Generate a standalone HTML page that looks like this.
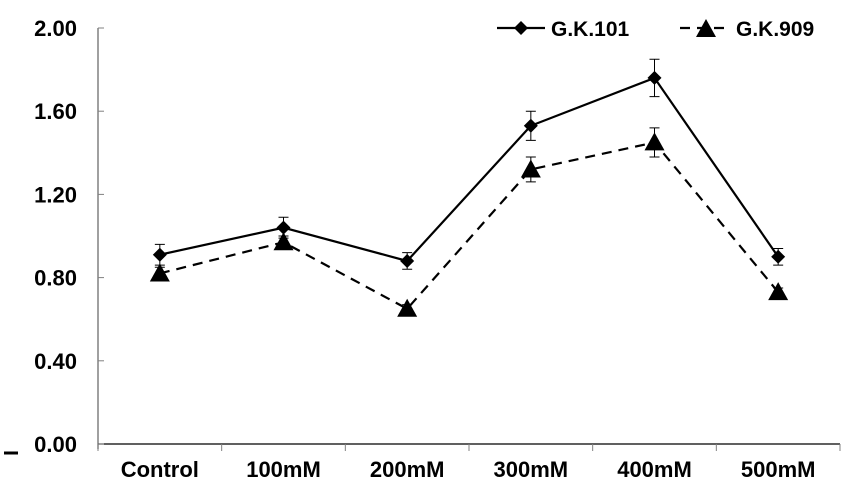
<!DOCTYPE html>
<html><head><meta charset="utf-8"><style>
body{margin:0;background:#fff;width:841px;height:480px;overflow:hidden}
text{font-family:"Liberation Sans",Arial,sans-serif;font-weight:bold;fill:#000}
</style></head><body>
<svg id="chart" width="841" height="480" xmlns="http://www.w3.org/2000/svg"></svg>
<script>
const categories=["Control","100mM","200mM","300mM","400mM","500mM"];
const gk101=[0.91,1.04,0.88,1.53,1.76,0.90];
const gk101Err=[0.05,0.05,0.04,0.07,0.09,0.04];
const gk909=[0.82,0.97,0.65,1.32,1.45,0.73];
const gk909Err=[0.03,0.03,0.02,0.06,0.07,0.02];
const yTicks=[0,0.4,0.8,1.2,1.6,2.0];
const yLabels=["0.00","0.40","0.80","1.20","1.60","2.00"];

const svg=document.getElementById('chart');
const NS="http://www.w3.org/2000/svg";
const x0=98,x1=840,yT=28,yB=444,yMax=2;
const bw=(x1-x0)/categories.length;
const xS=i=>x0+bw*(i+0.5);
const yS=v=>yB-(v/yMax)*(yB-yT);
function mk(t,a,name,p){const e=document.createElementNS(NS,t);for(const k in a)e.setAttribute(k,a[k]);


(p||svg).appendChild(e);return e;}
mk('line',{x1:x0,y1:yT,x2:x0,y2:yB+5,stroke:'#808080','stroke-width':1.5},'y-axis');
mk('line',{x1:x0,y1:yB,x2:x1,y2:yB,stroke:'#000','stroke-width':1.2},'x-axis');
yTicks.forEach((v,i)=>{
 mk('line',{x1:x0,y1:yS(v),x2:x0+6,y2:yS(v),stroke:'#808080'},'y-tick');
 const t=mk('text',{x:77,y:yS(v)+8,'text-anchor':'end','font-size':22},'y-tick-label');t.textContent=yLabels[i];
});
for(let i=0;i<=categories.length;i++){mk('line',{x1:x0+bw*i,y1:yB,x2:x0+bw*i,y2:yB+7,stroke:'#808080'},'x-tick');}
categories.forEach((c,i)=>{const t=mk('text',{x:xS(i),y:477,'text-anchor':'middle','font-size':22},'x-tick-label');t.textContent=c;});
mk('line',{x1:4,y1:453,x2:18,y2:453,stroke:'#000','stroke-width':3},'axis-mark');
function series(vals,errs,dash,marker,name){
 let d=vals.map((v,i)=>(i?'L':'M')+xS(i)+','+yS(v)).join('');
 mk('path',{d:d,fill:'none',stroke:'#000','stroke-width':2.2,'stroke-dasharray':dash},name+'-line');
 vals.forEach((v,i)=>{
  const x=xS(i),yh=yS(v+errs[i]),yl=yS(v-errs[i]);
  mk('path',{d:`M${x},${yh}L${x},${yl}M${x-5},${yh}L${x+5},${yh}M${x-5},${yl}L${x+5},${yl}`,stroke:'#000','stroke-width':1,fill:'none'},name+'-error-bar');
  marker(x,yS(v),name+'-point');
 });
}
const diamond=(x,y,n)=>mk('path',{d:`M${x},${y-7}L${x+7},${y}L${x},${y+7}L${x-7},${y}Z`,fill:'#000'},n);
const tri=(x,y,n)=>mk('path',{d:`M${x},${y-10}L${x+10},${y+8}L${x-10},${y+8}Z`,fill:'#000'},n);
series(gk101,gk101Err,'none',diamond,'gk101');
series(gk909,gk909Err,'10,7',tri,'gk909');
const lg=mk('g',{},'legend');
mk('line',{x1:497,y1:28,x2:545,y2:28,stroke:'#000','stroke-width':2.2},'legend-line-gk101',lg);
diamond(521,28,'legend-marker-gk101');
let t=mk('text',{x:551,y:36,'font-size':21},'legend-label-gk101',lg);t.textContent="G.K.101";
mk('line',{x1:680,y1:28,x2:730,y2:28,stroke:'#000','stroke-width':2.2,'stroke-dasharray':'10,7'},'legend-line-gk909',lg);
tri(706,29,'legend-marker-gk909');
t=mk('text',{x:736,y:36,'font-size':21},'legend-label-gk909',lg);t.textContent="G.K.909";
</script>
</body></html>
